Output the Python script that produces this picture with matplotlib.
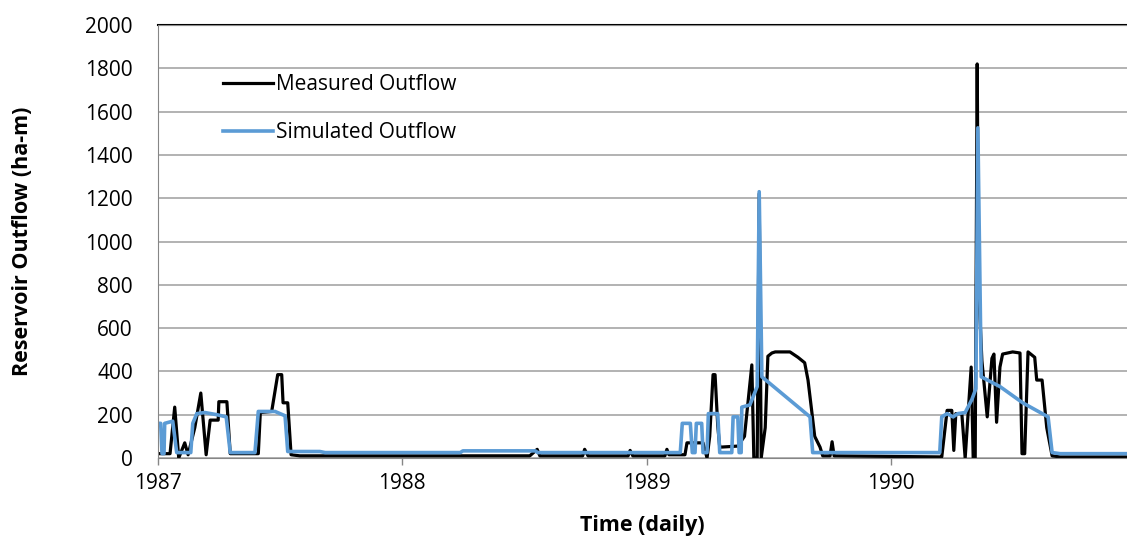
import matplotlib
matplotlib.use("Agg")
import matplotlib.pyplot as plt
import matplotlib.dates as mdates
import numpy as np
import pandas as pd

plt.rcParams['font.family'] = ['Open Sans', 'DejaVu Sans']

# day of record (days since 1987-01-01) and outflow (ha-m)
meas_day = [0, 18, 25, 31, 40, 45, 55, 64, 72, 78, 90, 91, 103, 108, 150, 153,
            170, 179, 185, 187, 194, 199, 212, 556, 567, 571, 635, 638, 643,
            703, 706, 710, 758, 761, 764, 788, 791, 815, 821, 825, 830, 833,
            837, 840, 867, 877, 888, 891, 896, 899, 902, 908, 912, 918, 923,
            945, 957, 967, 972, 978, 982, 990, 994, 1005, 1008, 1011, 1169,
            1172, 1180, 1187, 1190, 1193, 1202, 1207, 1216, 1219, 1222, 1225,
            1227, 1232, 1240, 1247, 1250, 1254, 1259, 1263, 1278, 1289, 1292,
            1296, 1301, 1311, 1314, 1322, 1329, 1337, 1349, 1449]
meas_val = [20, 20, 235, 0, 70, 15, 140, 300, 15, 175, 175, 260, 260, 20, 20, 210,
            215, 385, 385, 255, 255, 15, 10, 10, 40, 10, 10, 40, 10,
            10, 35, 10, 10, 40, 15, 15, 70, 70, 0, 100, 385, 385,
            150, 50, 55, 100, 430, 0, 0, 1220, 0, 140, 470, 485, 490,
            490, 465, 440, 360, 205, 100, 50, 10, 10, 75, 10, 5,
            5, 220, 220, 35, 205, 205, 0, 420, 0, 0, 1820,
            800, 450, 190, 460, 480, 165, 420, 480, 490, 485, 20,
            20, 490, 465, 360, 360, 140, 10, 5, 5]

sim_day = [0, 4, 6, 9, 10, 22, 28, 49, 52, 58, 70, 88, 102, 108, 145, 150, 175,
           190, 194, 242, 250, 452, 456, 564, 568, 781, 784, 796, 799, 803,
           805, 813, 815, 821, 823, 837, 840, 858, 860, 867, 869, 872, 873,
           885, 896, 899, 903, 975, 979, 1169, 1172, 1180, 1189, 1196, 1207,
           1217, 1223, 1226, 1231, 1259, 1293, 1331, 1337, 1349, 1449]
sim_val = [160, 160, 20, 20, 160, 170, 25, 25, 160, 205, 210, 200, 190, 25, 25,
           215, 215, 195, 30, 30, 25, 25, 33, 33, 25, 25, 160, 160, 25, 25,
           160, 160, 25, 25, 205, 205, 25, 25, 190, 190, 25, 25, 235,
           245, 330, 1230, 375, 190, 25, 25, 190, 205, 190, 205, 210,
           270, 320, 1525, 375, 330, 255, 190, 25, 20, 20]

start = pd.Timestamp('1987-01-01')
meas_t = start + pd.to_timedelta(meas_day, unit='D')
sim_t = start + pd.to_timedelta(sim_day, unit='D')

fig = plt.figure(figsize=(11.27, 5.4), dpi=100)
ax = fig.add_axes([158/1127, 82/540, 969/1127, 433/540])

ax.plot(meas_t, meas_val, color='black', lw=2.3, label='Measured Outflow',
        solid_joinstyle='round')
ax.plot(sim_t, sim_val, color='#5b9bd5', lw=2.6, label='Simulated Outflow',
        solid_joinstyle='round')

ax.set_ylim(0, 2000)
ax.set_yticks(np.arange(0, 2001, 200))
ax.set_xlim(start, start + pd.Timedelta(days=1449))
ax.xaxis.set_major_locator(mdates.YearLocator())
ax.xaxis.set_major_formatter(mdates.DateFormatter('%Y'))

ax.grid(axis='y', color='#a6a6a6', lw=1.2)
ax.set_axisbelow(True)
for s in ['top', 'right']:
    ax.spines[s].set_visible(False)
ax.spines['left'].set_color('#868686')
ax.spines['bottom'].set_color('#868686')
ax.axhline(2000, color='black', lw=1.5, clip_on=False, zorder=0)

ax.tick_params(axis='y', length=0, pad=18, labelsize=15)
ax.tick_params(axis='x', length=5, width=1, color='#868686', pad=6, labelsize=15)

ax.set_ylabel('Reservoir Outflow (ha-m)', fontsize=15.5, fontweight='bold')
ax.yaxis.set_label_coords(-125/969, 0.5)
ax.set_xlabel('Time (daily)', fontsize=15.5, fontweight='bold')
ax.xaxis.set_label_coords(0.5, -57/433)

ax.legend(loc='upper left', bbox_to_anchor=(0.067, 0.886), frameon=False,
          fontsize=15, handlelength=2.4, handletextpad=0.15, labelspacing=1.3,
          borderpad=0, borderaxespad=0)

fig.savefig('out.png', dpi=100)
